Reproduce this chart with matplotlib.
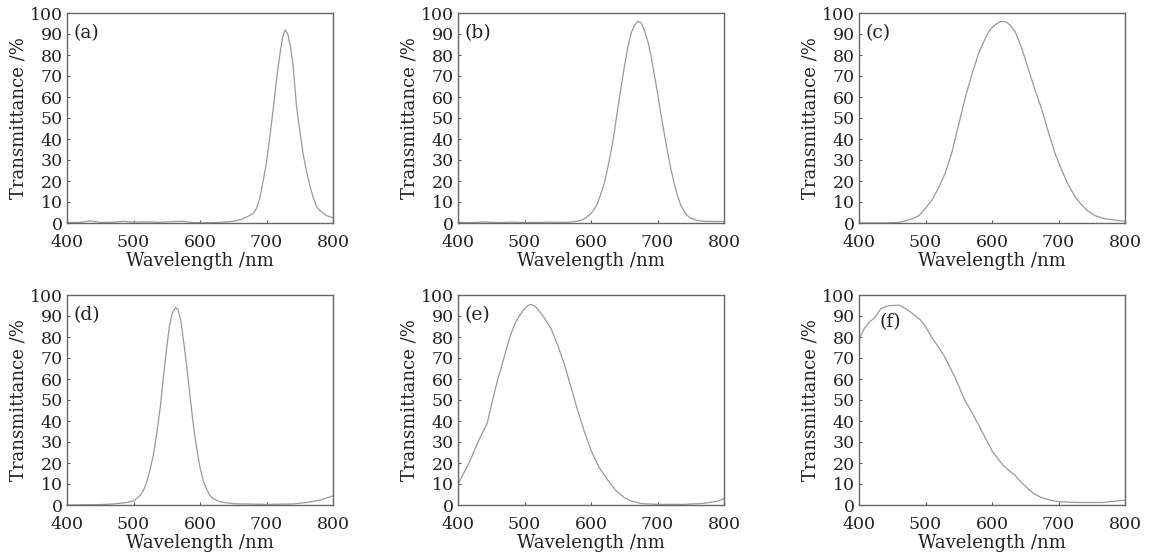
import matplotlib.pyplot as plt

# wavelength (nm) / transmittance (%)
wl_a = [400, 420, 435, 450, 470, 485, 500, 520, 540, 560, 575, 590, 610, 630, 650, 660, 670, 680,
        685, 690, 695, 700, 705, 710, 715, 720, 724, 728, 732, 736, 740, 745, 750, 755, 760, 765,
        770, 775, 780, 790, 800]
tr_a = [0.2, 0.3, 1.0, 0.3, 0.4, 0.8, 0.4, 0.6, 0.3, 0.7, 0.8, 0.2, 0.1, 0.3, 0.8, 1.5, 2.8, 4.5,
        7, 12, 20, 29, 41, 54, 68, 80, 88, 92, 90, 84, 75, 56, 44, 33, 25, 18,
        12.5, 8, 6, 3.5, 2.5]

wl_b = [400, 420, 440, 460, 480, 500, 520, 540, 560, 570, 580, 590, 600, 605, 610, 615, 620, 625,
        630, 635, 640, 645, 650, 655, 660, 665, 670, 675, 680, 685, 690, 695, 700, 705, 710, 715,
        720, 725, 730, 735, 740, 745, 750, 760, 770, 800]
tr_b = [0.3, 0.2, 0.5, 0.2, 0.4, 0.2, 0.3, 0.4, 0.3, 0.5, 0.9, 2, 4.5, 6.5, 9.5, 14, 19, 26,
        34, 43, 54, 64, 74, 83, 90, 94, 96, 95.5, 92, 87, 80, 71, 62, 52, 43, 34,
        26, 19, 13, 8.5, 5.5, 3.5, 2.3, 1.2, 0.8, 0.7]

wl_c = [400, 440, 460, 470, 480, 490, 500, 510, 520, 530, 540, 550, 560, 570, 580, 590, 595, 600,
        605, 612, 617, 622, 628, 635, 645, 655, 665, 675, 685, 695, 705, 715, 725, 735, 745, 755,
        770, 790, 800]
tr_c = [0, 0, 0.3, 1, 2, 3.5, 7, 11, 17, 24, 34, 47, 60, 71, 81, 88, 91, 93,
        94.5, 95.8, 96, 95.6, 94, 91, 83, 73, 63, 54, 43, 33, 25, 18, 12.5, 8.5, 5.5, 3.5,
        2, 1.2, 0.8]

wl_d = [400, 450, 470, 490, 500, 510, 515, 520, 525, 530, 535, 540, 545, 550, 554, 558, 563, 567,
        571, 575, 580, 585, 590, 595, 600, 605, 610, 615, 620, 630, 650, 700, 740, 760, 780, 800]
tr_d = [0, 0.2, 0.5, 1.2, 2, 4.5, 7, 11, 17, 24, 34, 46, 61, 75, 85, 91, 94, 93,
        88, 79, 66, 52, 38, 27, 18, 11.5, 7.5, 4.5, 3, 1.5, 0.6, 0.3, 0.5, 1.2, 2.3, 4.3]

wl_e = [400, 410, 418, 430, 444, 452, 460, 470, 477, 485, 492, 500, 505, 509, 514, 518, 524, 530,
        540, 550, 560, 570, 580, 590, 600, 612, 625, 637, 650, 660, 675, 700, 740, 770, 790, 800]
tr_e = [10, 16, 21, 30, 39, 50, 60, 71, 79, 86, 90, 93.5, 95, 95.5, 95, 94, 91.5, 89,
        84, 76, 67, 56, 45, 35, 26, 18, 12, 7, 3.5, 2, 0.7, 0.3, 0.3, 0.8, 1.8, 3]

wl_f = [400, 408, 415, 423, 433, 443, 460, 473, 483, 493, 500, 509, 520, 529, 544, 559, 570, 579,
        590, 600, 615, 625, 635, 645, 655, 665, 675, 688, 700, 726, 766, 785, 800]
tr_f = [79, 84, 87, 89, 93.5, 94.8, 95.2, 93, 90.5, 88, 85, 80, 75, 70.5, 61, 50, 44, 38.6,
        32, 25.8, 19.5, 16.5, 14, 10.5, 7.5, 5, 3.5, 2.3, 1.6, 1.2, 1.2, 1.8, 2.3]

panels = [(wl_a, tr_a, "(a)"), (wl_b, tr_b, "(b)"), (wl_c, tr_c, "(c)"),
          (wl_d, tr_d, "(d)"), (wl_e, tr_e, "(e)"), (wl_f, tr_f, "(f)")]

plt.rcParams['font.family'] = 'DejaVu Serif'

W, H = 1155, 560
fig = plt.figure(figsize=(W / 100, H / 100), dpi=100)

lefts = [67, 458, 859]
tops = [13, 295]
aw, ah = 266, 210

for i, (wl, tr, tag) in enumerate(panels):
    l = lefts[i % 3]
    t = tops[i // 3]
    ax = fig.add_axes([l / W, (H - t - ah) / H, aw / W, ah / H])
    ax.plot(wl, tr, color='#999999', lw=0.9)
    ax.set_xlim(400, 800)
    ax.set_ylim(0, 100)
    ax.set_xticks(range(400, 801, 100))
    ax.set_yticks(range(0, 101, 10))
    ax.tick_params(direction='in', length=2.5, width=0.8, color='#555555',
                   labelsize=12.5, labelcolor='#222222')
    ax.tick_params(axis='x', pad=8)
    ax.tick_params(axis='y', pad=3)
    for s in ax.spines.values():
        s.set_color('#666666')
        s.set_linewidth(1.0)
    ax.set_xlabel('Wavelength /nm', fontsize=13, labelpad=1, color='#222222')
    ax.set_ylabel('Transmittance /%', fontsize=13, labelpad=2, color='#222222')
    if tag == "(f)":
        ax.text(0.076, 0.87, tag, transform=ax.transAxes, fontsize=13.5,
                va='center', ha='left', color='#222222')
    else:
        ax.text(0.025, 0.905, tag, transform=ax.transAxes, fontsize=13.5,
                va='center', ha='left', color='#222222')

fig.savefig('out.png', dpi=100)
